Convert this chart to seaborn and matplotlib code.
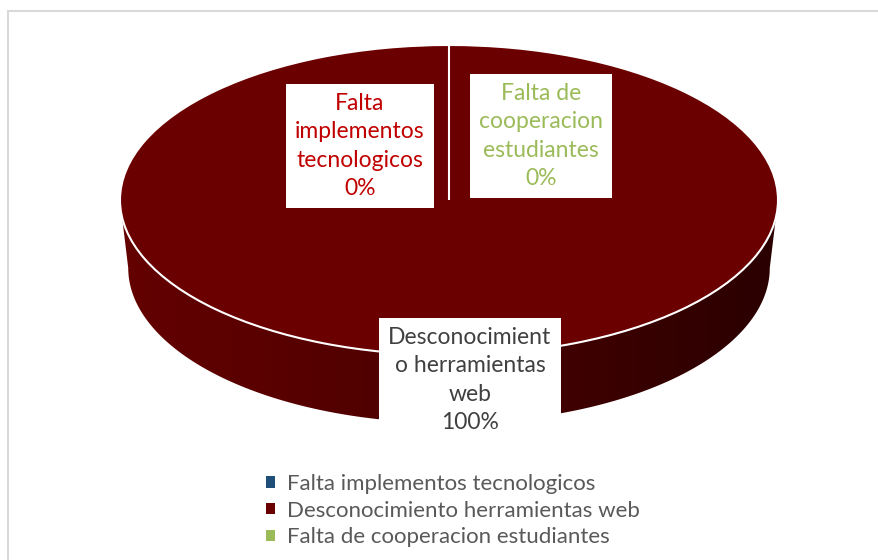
import matplotlib.pyplot as plt
import seaborn as sns
import numpy as np
from matplotlib.path import Path
from matplotlib.patches import PathPatch, Patch, Rectangle
from matplotlib.colors import LinearSegmentedColormap

# Data
categories = ["Falta implementos tecnologicos",
              "Desconocimiento herramientas web",
              "Falta de cooperacion estudiantes"]
values = [0, 100, 0]
pct_labels = ["0%", "100%", "0%"]
box_texts = ["Falta\nimplementos\ntecnologicos",
             "Desconocimient\no herramientas\nweb",
             "Falta de\ncooperacion\nestudiantes"]
colors = ["#1f4e79", "#6b0000", "#9bbb59"]
text_colors = ["#c00000", "#404040", "#9bbb59"]

sns.set_style("white")
plt.rcParams["font.family"] = ["Lato", "DejaVu Sans"]

W, H = 879, 560
fig = plt.figure(figsize=(W / 100, H / 100), dpi=100)
ax = fig.add_axes([0, 0, 1, 1])

# pixel geometry of the top face of the 3d pie
cx, cy, rx, ry = 449, 200, 329, 155
depth = 68 / ry

# side of the cylinder (gradient band)
t = np.linspace(np.pi, 2 * np.pi, 200)
top_x, top_y = np.cos(t), np.sin(t)
bot_x, bot_y = 0.975 * np.cos(t[::-1]), np.sin(t[::-1]) - depth
verts = np.concatenate([np.c_[top_x, top_y], np.c_[bot_x, bot_y], [[top_x[0], top_y[0]]]])
codes = [Path.MOVETO] + [Path.LINETO] * (len(verts) - 2) + [Path.CLOSEPOLY]
side = PathPatch(Path(verts, codes), facecolor="none", edgecolor="none")
ax.add_patch(side)
cmap = LinearSegmentedColormap.from_list("side", ["#640000", "#540000", "#400000", "#2a0000"])
grad = np.linspace(0, 1, 256).reshape(1, -1)
im = ax.imshow(grad, cmap=cmap, extent=[-1, 1, -1 - depth, 0], aspect="auto", zorder=1)
im.set_clip_path(side)

# top face from the data
wedges, _ = ax.pie(values, colors=colors, startangle=90, counterclock=False,
                   wedgeprops=dict(edgecolor="white", linewidth=1.5))
for w in wedges:
    w.set_zorder(2)

ax.set_aspect("auto")
ax.set_xlim(-cx / rx, (W - cx) / rx)
ax.set_ylim(-(H - cy) / ry, cy / ry)
ax.axis("off")

# data labels
label_pos = [(360, 146), (470, 380), (541, 136)]
for (px, py), txt, pct, tc in zip(label_pos, box_texts, pct_labels, text_colors):
    ax.text((px - cx) / rx, (cy - py) / ry, txt + "\n" + pct, color=tc, fontsize=16.5,
            ha="center", va="center", linespacing=1.42, zorder=5,
            bbox=dict(facecolor="white", edgecolor="none", pad=6.5))

# legend
handles = [Patch(facecolor=c, edgecolor="none") for c in colors]
fig.legend(handles, categories, loc="upper left", bbox_to_anchor=(257 / W, 1 - 465 / H),
           frameon=False, fontsize=16, labelcolor="#595959", handlelength=0.4,
           handleheight=0.4, handletextpad=0.55, labelspacing=0.3, borderaxespad=0)

# chart area border
fig.add_artist(Rectangle((8 / W, -0.1), 1.2, 1 - 11 / H + 0.1, transform=fig.transFigure,
                         fill=False, edgecolor="#d9d9d9", linewidth=1.5))

fig.savefig("out.png", dpi=100)
